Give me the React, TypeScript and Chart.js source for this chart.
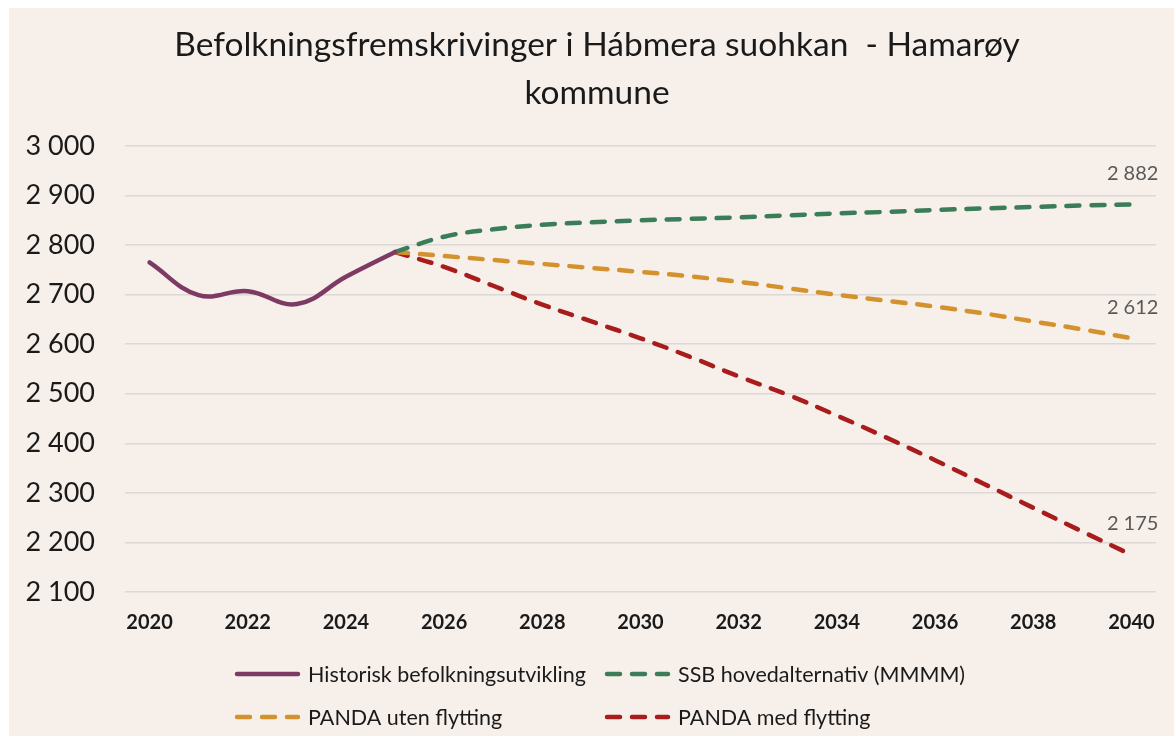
import React, { useEffect, useRef } from "react";
import { Chart, registerables } from "chart.js";

Chart.register(...registerables);

const years = ["2020","2021","2022","2023","2024","2025","2026","2027","2028","2029","2030","2031","2032","2033","2034","2035","2036","2037","2038","2039","2040"];
const historisk = [2765, 2699, 2707, 2681, 2736, 2786, null, null, null, null, null, null, null, null, null, null, null, null, null, null, null];
const ssbHoved = [null, null, null, null, null, 2786, 2817, 2832, 2841, 2846, 2850, 2853, 2856, 2860, 2864, 2867, 2871, 2874, 2877, 2880, 2882];
const pandaUten = [null, null, null, null, null, 2786, 2778, 2770, 2762, 2754, 2746, 2737, 2726, 2713, 2700, 2688, 2676, 2662, 2646, 2630, 2612];
const pandaMed = [null, null, null, null, null, 2786, 2756, 2718, 2680, 2646, 2612, 2575, 2535, 2498, 2456, 2412, 2366, 2318, 2270, 2222, 2175];

const seriesNames = ["Historisk befolkningsutvikling", "SSB hovedalternativ (MMMM)", "PANDA uten flytting", "PANDA med flytting"];
const seriesColors = ["#7D3B64", "#3A7D58", "#D4922E", "#A81C1C"];
const titleLines = ["Befolkningsfremskrivinger i Hábmera suohkan  - Hamarøy", "kommune"];

const fmt = (v: number) => Math.round(v).toString().replace(/\B(?=(\d{3})+(?!\d))/g, " ");

const FONT = "Lato, 'Open Sans', sans-serif";
const DASH = [13, 12];

const customPlugin = {
  id: "customLegendLabels",
  afterLayout(chart: any) {
    const t = chart.titleBlock;
    if (t) {
      t.left += 27;
    }
  },
  afterDraw(chart: any) {
    const ctx = chart.ctx;
    ctx.save();
    // end-of-line data labels for projections
    ctx.font = `20px ${FONT}`;
    ctx.fillStyle = "#595959";
    ctx.textAlign = "right";
    ctx.textBaseline = "middle";
    for (let d = 1; d < chart.data.datasets.length; d++) {
      const meta = chart.getDatasetMeta(d);
      const arr = chart.data.datasets[d].data;
      const last = arr.length - 1;
      const pt = meta.data[last];
      if (!pt) continue;
      ctx.fillText(fmt(arr[last]), pt.x + 27, pt.y - 31);
    }
    // legend
    const rows = [666, 709];
    const cols = [226, 596];
    ctx.textAlign = "left";
    ctx.font = `21.5px ${FONT}`;
    for (let i = 0; i < seriesNames.length; i++) {
      const r = Math.floor(i / 2);
      const c = i % 2;
      const y = rows[r];
      const x0 = cols[c];
      ctx.beginPath();
      ctx.strokeStyle = seriesColors[i];
      ctx.lineWidth = 4.5;
      ctx.lineCap = "round";
      ctx.setLineDash(i === 0 ? [] : DASH);
      ctx.moveTo(x0 + 2, y);
      ctx.lineTo(x0 + 63, y);
      ctx.stroke();
      ctx.setLineDash([]);
      ctx.fillStyle = "#1a1a1a";
      ctx.fillText(seriesNames[i], x0 + 73, y + 1);
    }
    ctx.restore();
  },
};

export default function App() {
  const ref = useRef<HTMLCanvasElement | null>(null);
  useEffect(() => {
    if (!ref.current) return;
    const seriesData = [historisk, ssbHoved, pandaUten, pandaMed];
    const chart = new Chart(ref.current, {
      type: "line",
      data: {
        labels: years,
        datasets: seriesData.map((d, i) => ({
          label: seriesNames[i],
          data: d,
          borderColor: seriesColors[i],
          backgroundColor: seriesColors[i],
          borderWidth: 4.5,
          borderDash: i === 0 ? [] : DASH,
          borderCapStyle: "round",
          borderJoinStyle: "round",
          pointRadius: 0,
          pointHoverRadius: 0,
          tension: 0.4,
          spanGaps: false,
          fill: false,
        })) as any,
      },
      options: {
        animation: false,
        responsive: false,
        maintainAspectRatio: false,
        layout: { padding: { left: 0, right: 16, top: 0, bottom: 0 } },
        plugins: {
          legend: { display: false },
          tooltip: { enabled: false },
          title: {
            display: true,
            text: titleLines,
            color: "#1a1a1a",
            font: { family: FONT, size: 33.5, weight: "normal", lineHeight: "48px" } as any,
            padding: { top: 13, bottom: 29 },
          },
        },
        scales: {
          x: {
            type: "category",
            offset: true,
            grid: { display: false, drawTicks: false },
            border: { display: false },
            ticks: {
              autoSkip: false,
              maxRotation: 0,
              minRotation: 0,
              padding: 19,
              color: "#1a1a1a",
              font: { family: FONT, size: 20, weight: "bold" },
              callback: (_v: any, idx: number) => (idx % 2 === 0 ? years[idx] : ""),
            },
            afterFit: (scale: any) => {
              scale.height = 144;
            },
          },
          y: {
            min: 2100,
            max: 3000,
            grid: { color: "#DCD8D6", lineWidth: 1.5, drawTicks: false },
            border: { display: false },
            ticks: {
              stepSize: 100,
              padding: 30,
              color: "#1a1a1a",
              font: { family: FONT, size: 27 },
              callback: (v: any) => fmt(Number(v)),
            },
            afterFit: (scale: any) => {
              scale.width = 116;
            },
          },
        },
      },
      plugins: [customPlugin],
    });
    return () => chart.destroy();
  }, []);

  return (
    <div style={{ position: "absolute", left: 9, top: 8, width: 1165, height: 728, background: "#F6EFEA" }}>
      <canvas ref={ref} width={1165} height={728} style={{ display: "block" }} />
    </div>
  );
}
